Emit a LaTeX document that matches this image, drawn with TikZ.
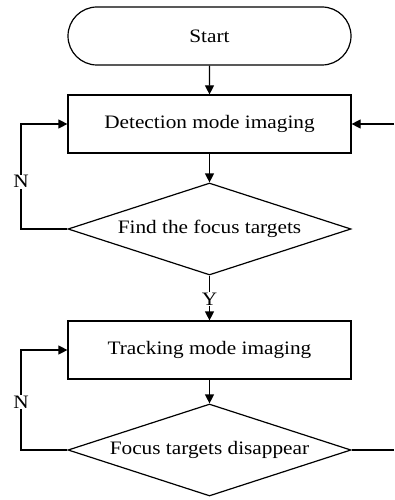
\documentclass[tikz,border=0pt]{standalone}
\usepackage{fontspec}
\setmainfont[FakeStretch=1.12]{Liberation Serif}
\usetikzlibrary{shapes.misc,shapes.geometric,arrows.meta}
\begin{document}
\begin{tikzpicture}[x=1pt,y=-1pt,
  line width=1.2pt,
  every node/.style={font=\fontsize{19}{22}\selectfont},
  procbox/.style={draw,rectangle,minimum width=283pt,minimum height=58pt,inner sep=0pt},
  startbox/.style={draw,rounded rectangle,minimum width=283pt,minimum height=58pt,inner sep=0pt},
  decbox/.style={draw,diamond,minimum width=283pt,minimum height=92pt,aspect=3.076,inner sep=0pt},
  arr/.style={-{Triangle[length=9pt,width=9pt]}},
  lbl/.style={fill=white,inner sep=1pt}]
\useasboundingbox (0,0) rectangle (394,500);
\node[startbox] (start) at (209.5,36) {Start};
\node[procbox] (det) at (209.5,124) {Detection mode imaging};
\node[decbox] (find) at (209.5,229) {Find the focus targets};
\node[procbox] (trk) at (209.5,350) {Tracking mode imaging};
\node[decbox] (dis) at (209.5,450) {Focus targets disappear};
\coordinate (l1b) at (21,229);
\coordinate (l1t) at (21,124);
\coordinate (l2b) at (21,450);
\coordinate (l2t) at (21,350);
\coordinate (rin) at (394,124);
\coordinate (rout) at (394,450);
\draw[arr] (start) -- (det);
\draw[arr] (det) -- (find);
\draw[arr] (find) -- node[lbl,pos=0.52]{Y} (trk);
\draw[arr] (trk) -- (dis);
\draw[arr] (find.west) -- (l1b) -- node[lbl,pos=0.45]{N} (l1t) -- (det.west);
\draw[arr] (dis.west) -- (l2b) -- node[lbl,pos=0.48]{N} (l2t) -- (trk.west);
\draw[arr] (rin) -- (det.east);
\draw (dis.east) -- (rout);
\end{tikzpicture}
\end{document}
